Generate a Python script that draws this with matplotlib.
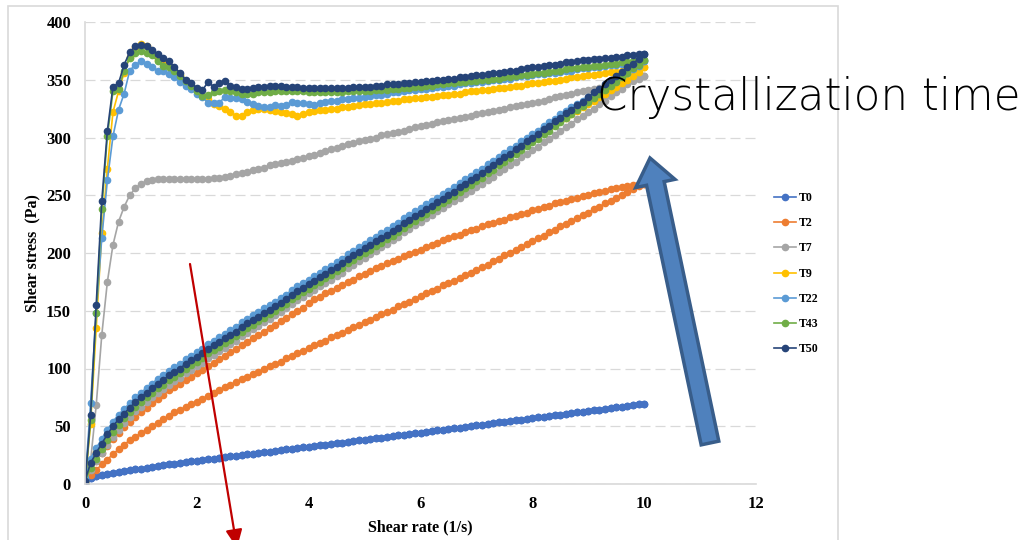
import numpy as np
import matplotlib
matplotlib.use("Agg")
import matplotlib.pyplot as plt
from matplotlib.patches import FancyArrow, FancyArrowPatch, Rectangle
from matplotlib.transforms import IdentityTransform

# shear rate steps (1/s), ramp up 0 -> 10 then back down
shear_rate = np.round(np.arange(0, 10.05, 0.1), 1)

labels = ["T0", "T2", "T7", "T9", "T22", "T43", "T50"]
colors = ["#4472C4", "#ED7D31", "#A5A5A5", "#FFC000", "#5B9BD5", "#70AD47", "#264478"]

t0_stress = [
    0, 5, 6.5, 7.5, 8.5, 9.5, 10.2, 11, 11.8, 12.6,
    13.4, 14.1, 14.8, 15.5, 16.2, 16.9, 17.6, 18.2, 18.9, 19.5,
    20.2, 20.8, 21.4, 22.0, 22.7, 23.3, 23.9, 24.5, 25.1, 25.7,
    26.3, 26.9, 27.5, 28.1, 28.7, 29.3, 29.9, 30.5, 31.1, 31.7,
    32.3, 32.9, 33.5, 34.1, 34.7, 35.3, 35.9, 36.5, 37.1, 37.7,
    38.3, 38.9, 39.5, 40.2, 40.8, 41.4, 42.0, 42.6, 43.3, 43.9,
    44.5, 45.1, 45.8, 46.4, 47.0, 47.6, 48.3, 48.9, 49.5, 50.1,
    50.8, 51.4, 52.0, 52.6, 53.3, 53.9, 54.5, 55.1, 55.8, 56.4,
    57.0, 57.6, 58.3, 58.9, 59.5, 60.1, 60.8, 61.4, 62.0, 62.6,
    63.3, 63.9, 64.5, 65.1, 65.8, 66.4, 67.0, 67.6, 68.3, 68.9, 69.5]

t2_up = [
    0, 12, 20, 27, 33, 39, 44, 49, 54, 58,
    62, 66, 70, 74, 77, 81, 84, 87, 90, 93,
    96, 99, 102, 105, 108, 111, 114, 117, 120, 123,
    126, 129, 132, 135, 138, 141, 144, 147, 150, 152,
    157, 160, 162, 165, 167, 170, 172, 175, 177, 180,
    182, 184, 187, 189, 191, 193, 195, 197, 199, 201,
    203, 205, 207, 209, 211, 213, 215, 216, 218, 220,
    221, 223, 225, 226, 228, 229, 231, 232, 234, 235,
    237, 238, 240, 241, 243, 244, 245, 247, 248, 249,
    250, 252, 253, 254, 255, 256, 257, 258, 259, 260, 260]
t2_down = [
    2, 8, 12, 17, 21, 26, 30, 34, 38, 41,
    44, 47, 50, 53, 56, 59, 62, 64, 67, 69,
    71, 74, 76, 79, 81, 84, 86, 88, 91, 93,
    95, 97, 100, 102, 104, 106, 109, 111, 113, 115,
    118, 120, 122, 124, 127, 129, 131, 133, 136, 138,
    140, 142, 145, 147, 149, 151, 154, 156, 158, 160,
    163, 165, 167, 169, 172, 174, 176, 178, 181, 183,
    185, 188, 190, 193, 195, 198, 200, 203, 205, 208,
    210, 213, 215, 218, 220, 223, 225, 228, 230, 233,
    235, 238, 240, 243, 245, 248, 250, 253, 255, 258, 260]

t7_up = [
    0, 20, 68, 129, 175, 207, 227, 240, 250, 256,
    260, 262, 263, 264, 264, 264, 264, 264, 264, 264,
    264, 264, 264, 265, 265, 266, 267, 268, 269, 270,
    272, 273, 274, 276, 277, 278, 279, 280, 281, 282,
    284, 285, 287, 288, 290, 291, 293, 294, 295, 297,
    298, 299, 300, 302, 303, 304, 305, 306, 307, 309,
    310, 311, 312, 313, 314, 315, 316, 317, 318, 319,
    320, 321, 322, 323, 324, 325, 326, 327, 328, 329,
    330, 331, 332, 333, 335, 336, 337, 338, 339, 340,
    341, 342, 343, 345, 346, 347, 348, 349, 350, 352, 353]
t7_down = [
    2, 12, 20, 27, 34, 41, 47, 53, 58, 63,
    67, 71, 75, 79, 82, 86, 89, 92, 96, 99,
    102, 105, 109, 112, 115, 118, 121, 124, 128, 131,
    134, 137, 140, 143, 146, 149, 152, 156, 159, 162,
    165, 168, 171, 174, 177, 180, 183, 187, 190, 193,
    196, 199, 202, 205, 208, 211, 214, 218, 221, 224,
    227, 230, 233, 236, 239, 242, 245, 248, 251, 254,
    257, 260, 263, 266, 270, 273, 276, 279, 283, 286,
    289, 292, 296, 299, 302, 306, 309, 312, 316, 319,
    322, 325, 329, 332, 336, 339, 342, 346, 349, 351, 353]

t9_up = [
    0, 52, 135, 217, 273, 322, 340, 356, 370, 378,
    381, 379, 373, 367, 365, 362, 358, 354, 349, 345,
    340, 336, 333, 329, 327, 325, 322, 319, 319, 322,
    324, 325, 325, 324, 323, 322, 321, 320, 319, 320,
    322, 323, 324, 324, 325, 325, 326, 326, 327, 328,
    329, 329, 330, 330, 331, 332, 332, 333, 333, 334,
    334, 335, 335, 336, 337, 337, 338, 338, 339, 340,
    340, 341, 341, 342, 343, 343, 344, 345, 345, 346,
    347, 347, 348, 349, 349, 350, 351, 352, 352, 353,
    354, 354, 355, 356, 357, 357, 358, 359, 359, 360, 361]
t9_down = [
    10, 20, 28, 34, 42, 50, 57, 62, 67, 72,
    77, 81, 85, 89, 92, 96, 99, 102, 106, 109,
    112, 115, 119, 122, 125, 128, 131, 134, 138, 141,
    144, 147, 150, 153, 156, 159, 162, 166, 169, 172,
    175, 178, 181, 184, 187, 190, 193, 197, 200, 203,
    206, 209, 212, 215, 218, 221, 224, 228, 231, 234,
    237, 240, 243, 246, 249, 252, 255, 259, 262, 265,
    268, 271, 274, 277, 280, 284, 287, 290, 293, 296,
    299, 302, 305, 308, 311, 314, 317, 320, 323, 326,
    329, 332, 335, 338, 341, 344, 347, 350, 353, 357, 361]

t22_up = [
    0, 70, 148, 213, 263, 301, 324, 338, 358, 363,
    366, 364, 361, 358, 358, 355, 352, 348, 345, 342,
    338, 335, 330, 330, 330, 335, 334, 334, 333, 331,
    329, 327, 326, 326, 328, 327, 328, 331, 330, 330,
    329, 328, 330, 331, 332, 332, 333, 333, 334, 334,
    335, 336, 337, 337, 338, 339, 339, 340, 341, 341,
    342, 342, 343, 344, 344, 345, 345, 346, 347, 347,
    348, 348, 349, 350, 350, 351, 351, 352, 353, 353,
    354, 355, 355, 356, 356, 357, 358, 358, 359, 360,
    360, 361, 361, 362, 363, 363, 364, 364, 365, 365, 366]
t22_down = [
    5, 22, 31, 39, 47, 54, 60, 65, 70, 75,
    79, 83, 87, 91, 94, 98, 101, 104, 108, 111,
    114, 117, 121, 124, 127, 130, 133, 136, 140, 143,
    146, 149, 152, 155, 158, 161, 164, 168, 171, 174,
    177, 180, 183, 186, 189, 192, 195, 199, 202, 205,
    208, 211, 214, 217, 220, 223, 226, 230, 233, 236,
    239, 242, 245, 248, 251, 254, 257, 261, 264, 267,
    270, 273, 277, 280, 283, 287, 290, 293, 297, 300,
    303, 306, 310, 313, 316, 320, 323, 326, 329, 332,
    335, 338, 341, 344, 347, 350, 353, 356, 359, 362, 366]

t43_up = [
    0, 55, 148, 238, 301, 340, 342, 358, 369, 373,
    375, 373, 371, 366, 362, 361, 358, 353, 349, 345,
    340, 336, 337, 339, 340, 341, 340, 339, 338, 338,
    338, 339, 339, 339, 340, 340, 340, 340, 340, 340,
    339, 339, 339, 339, 339, 339, 339, 340, 340, 340,
    340, 340, 341, 341, 341, 342, 342, 343, 343, 344,
    344, 345, 345, 346, 346, 347, 347, 348, 348, 349,
    349, 350, 350, 351, 351, 352, 352, 353, 354, 354,
    355, 356, 356, 357, 358, 358, 359, 360, 360, 361,
    361, 362, 362, 363, 364, 364, 365, 365, 366, 366, 367]
t43_down = [
    2, 14, 22, 30, 38, 45, 51, 57, 62, 67,
    71, 75, 79, 83, 86, 90, 93, 96, 100, 103,
    106, 109, 113, 116, 119, 122, 125, 128, 132, 135,
    138, 141, 144, 147, 150, 153, 156, 160, 163, 166,
    169, 172, 175, 178, 181, 184, 187, 191, 194, 197,
    200, 203, 206, 209, 212, 215, 218, 222, 225, 228,
    231, 234, 237, 240, 243, 246, 249, 253, 256, 259,
    262, 265, 269, 272, 276, 279, 282, 286, 289, 293,
    296, 299, 303, 306, 310, 313, 317, 320, 324, 327,
    331, 334, 338, 341, 345, 348, 352, 356, 360, 363, 367]

t50_up = [
    0, 60, 155, 245, 306, 344, 347, 363, 374, 379,
    380, 379, 376, 372, 369, 366, 361, 356, 350, 347,
    343, 341, 348, 344, 347, 349, 345, 344, 342, 342,
    343, 344, 344, 345, 345, 345, 344, 344, 344, 343,
    343, 343, 343, 343, 343, 343, 343, 343, 344, 344,
    344, 344, 345, 345, 346, 346, 346, 347, 347, 348,
    348, 349, 349, 350, 350, 351, 351, 352, 352, 353,
    354, 354, 355, 356, 356, 357, 358, 358, 359, 360,
    361, 361, 362, 363, 363, 364, 365, 365, 366, 367,
    367, 368, 368, 369, 369, 370, 370, 371, 371, 372, 372]
t50_down = [
    3, 18, 27, 35, 43, 50, 56, 61, 66, 71,
    75, 79, 83, 87, 90, 94, 97, 100, 104, 107,
    110, 113, 117, 120, 123, 126, 129, 132, 136, 139,
    142, 145, 148, 151, 154, 157, 160, 164, 167, 170,
    173, 176, 179, 182, 185, 188, 191, 195, 198, 201,
    204, 207, 210, 213, 216, 219, 222, 226, 229, 232,
    235, 238, 241, 244, 247, 250, 253, 257, 260, 263,
    266, 269, 273, 276, 280, 283, 286, 290, 293, 297,
    300, 303, 307, 310, 314, 317, 321, 324, 328, 331,
    335, 339, 342, 346, 350, 353, 357, 361, 364, 368, 372]

loops = [
    (t0_stress, t0_stress),
    (t2_up, t2_down),
    (t7_up, t7_down),
    (t9_up, t9_down),
    (t22_up, t22_down),
    (t43_up, t43_down),
    (t50_up, t50_down),
]

W, H = 1028, 540
fig = plt.figure(figsize=(W / 100, H / 100), dpi=100)
ax = fig.add_axes([85 / W, 1 - 484 / H, (756 - 85) / W, (484 - 22) / H])

serif = "Liberation Serif"
x_loop = np.concatenate([shear_rate, shear_rate[::-1]])
for (up, down), lab, col in zip(loops, labels, colors):
    y_loop = np.concatenate([up, down[::-1]])
    ax.plot(x_loop, y_loop, color=col, lw=1.2, marker="o", ms=4.5,
            mec=col, mfc=col, label=lab)

ax.set_xlim(0, 12)
ax.set_ylim(0, 400)
ax.set_xticks(range(0, 13, 2))
ax.set_yticks(range(0, 401, 50))
ax.yaxis.grid(True, color="#D9D9D9", lw=0.9, linestyle=(0, (8, 4)))
ax.set_axisbelow(True)
for s in ["top", "right"]:
    ax.spines[s].set_visible(False)
for s in ["left", "bottom"]:
    ax.spines[s].set_color("#D9D9D9")
    ax.spines[s].set_linewidth(1.2)
ax.tick_params(length=0, labelsize=12)
ax.tick_params(axis="y", pad=10)
ax.tick_params(axis="x", pad=9)
for t in ax.get_xticklabels() + ax.get_yticklabels():
    t.set_fontfamily(serif)
    t.set_fontweight("bold")
ax.set_xlabel("Shear rate (1/s)", fontfamily=serif, fontweight="bold", fontsize=11.5, labelpad=5)
ax.set_ylabel("Shear stress  (Pa)", fontfamily=serif, fontweight="bold", fontsize=11.5, labelpad=4)

ax.legend(loc="upper left", bbox_to_anchor=(774 / W, 1 - 192 / H), bbox_transform=fig.transFigure,
          frameon=False, borderpad=0, borderaxespad=0, handlelength=1.9, handletextpad=0.2,
          labelspacing=1.12, prop={"family": serif, "weight": "bold", "size": 8.5})

# chart area border
fig.add_artist(Rectangle((8, -10), 830, 544, transform=IdentityTransform(),
                         fill=False, edgecolor="#D9D9D9", lw=1.2))

# block arrow
fig.add_artist(FancyArrow(710, 97, -60, 285, width=18, head_width=40, head_length=26,
                          length_includes_head=True, transform=IdentityTransform(),
                          facecolor="#4F81BD", edgecolor="#385D8A", lw=2.5))

# thin red arrow
fig.add_artist(FancyArrowPatch((190, 276), (237, -8), transform=IdentityTransform(),
                               arrowstyle="-|>,head_length=11,head_width=5", mutation_scale=1,
                               color="#C00000", lw=1.6, shrinkA=0, shrinkB=0))

txt = fig.text(597 / W, 1 - 110 / H, "Crystallization time", fontfamily="DejaVu Sans",
               fontweight="light", fontsize=36, color="black", ha="left", va="baseline")
fig.canvas.draw()
w = txt.get_window_extent().width
txt.set_fontsize(36 * 423 / w)

fig.savefig("out.png", dpi=100)
